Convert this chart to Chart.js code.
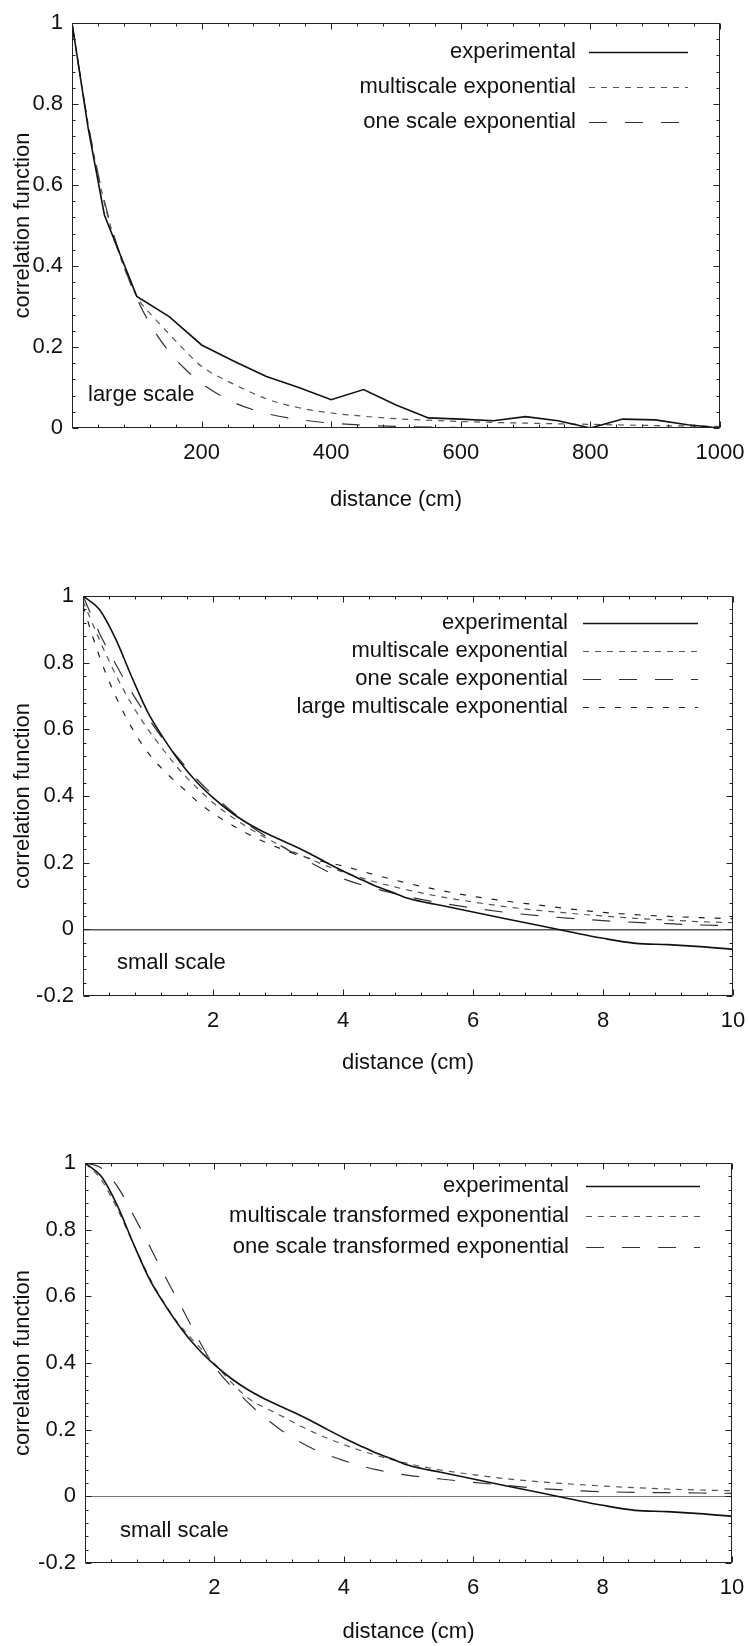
<!DOCTYPE html>
<html><head><meta charset="utf-8">
<script src="https://cdn.jsdelivr.net/npm/chart.js@4.4.1/dist/chart.umd.min.js"></script>
<style>
html,body{margin:0;padding:0;background:#fff;}
#wrap{position:relative;width:749px;height:1646px;background:#fff;}
canvas{position:absolute;left:0;}
</style></head><body>
<div id="wrap">
<canvas id="c1" width="749" height="540" style="top:0px"></canvas>
<canvas id="c2" width="749" height="530" style="top:560px"></canvas>
<canvas id="c3" width="749" height="546" style="top:1100px"></canvas>
</div>
<script>
// ---------- data: panel 1 (large scale) ----------
const largeDist = [0,25,50,100,150,200,250,300,350,400,450,500,550,600,650,700,750,800,850,900,950,1000];
const largeExperimental = [1.0,0.74,0.526,0.325,0.275,0.205,0.165,0.127,0.1,0.07,0.095,0.057,0.025,0.022,0.018,0.028,0.018,0.0,0.022,0.02,0.008,0.0];
const largeModelDist = [0,25,50,75,100,125,150,175,200,250,300,350,400,450,500,600,700,800,900,1000];
const largeMultiscale = [1.0,0.75,0.555,0.42,0.325,0.275,0.232,0.19,0.152,0.108,0.072,0.05,0.037,0.029,0.023,0.016,0.012,0.009,0.006,0.004];
const largeOneScale = [1.0,0.75,0.56,0.425,0.32,0.245,0.188,0.145,0.11,0.063,0.036,0.021,0.012,0.007,0.004,0.001,0,0,0,0];
const largeXTicks = [200,400,600,800,1000];
const largeYTicks = [0,0.2,0.4,0.6,0.8,1];

// ---------- data: panels 2 and 3 (small scale) ----------
const smallDist = [0,0.25,0.5,0.75,1,1.25,1.5,1.75,2,2.25,2.5,2.75,3,3.25,3.5,3.75,4,4.25,4.5,4.75,5,5.5,6,6.5,7,7.5,8,8.5,9,9.5,10];
const smallExperimental = [1.0,0.96,0.872,0.757,0.65,0.57,0.5,0.442,0.395,0.355,0.322,0.295,0.272,0.25,0.226,0.2,0.175,0.152,0.13,0.112,0.093,0.072,0.052,0.032,0.012,-0.008,-0.027,-0.042,-0.046,-0.052,-0.06];
const smallModelDist = [0,0.25,0.5,0.75,1,1.25,1.5,1.75,2,2.5,3,3.5,4,4.5,5,5.5,6,6.5,7,7.5,8,8.5,9,9.5,10];
const smallMultiscale = [0.985,0.87,0.765,0.675,0.6,0.535,0.475,0.425,0.38,0.31,0.255,0.21,0.172,0.142,0.118,0.098,0.082,0.068,0.057,0.048,0.04,0.033,0.028,0.023,0.02];
const smallOneScale = [1.0,0.89,0.797,0.711,0.635,0.566,0.506,0.451,0.403,0.321,0.256,0.2,0.152,0.122,0.098,0.079,0.064,0.051,0.041,0.033,0.026,0.021,0.017,0.013,0.011];
const smallLargeMultiscale = [0.97,0.82,0.70,0.605,0.53,0.475,0.43,0.385,0.348,0.29,0.245,0.212,0.19,0.163,0.138,0.117,0.099,0.085,0.073,0.061,0.051,0.044,0.039,0.035,0.032];
const smallMultiTransformed = [1.0,0.95,0.862,0.757,0.655,0.572,0.505,0.452,0.398,0.298,0.245,0.195,0.155,0.123,0.098,0.079,0.065,0.053,0.044,0.037,0.031,0.026,0.022,0.019,0.017];
const smallOneTransformed = [1.0,0.985,0.93,0.843,0.75,0.655,0.565,0.472,0.39,0.285,0.203,0.145,0.107,0.08,0.063,0.052,0.042,0.033,0.024,0.018,0.014,0.012,0.011,0.01,0.009];
const smallXTicks = [2,4,6,8,10];
const smallYTicks = [-0.2,0,0.2,0.4,0.6,0.8,1];

const xTitle = 'distance (cm)';
const yTitle = 'correlation function';

// ---------- rendering ----------
const FONT = "'Liberation Sans', Arial, Helvetica, sans-serif";
const FS = 22;
Chart.defaults.font.family = FONT;
Chart.defaults.font.size = FS;
Chart.defaults.color = '#111';

function pts(xs, ys){ return xs.map((x,i)=>({x:x, y:ys[i]})); }
function fmt(v){ return String(Math.round(v*1000)/1000); }

const STY = {
  exp:   {borderColor:'#111', borderWidth:1.6, borderDash:[]},
  multi: {borderColor:'#555', borderWidth:1.2, borderDash:[6,6]},
  one:   {borderColor:'#333', borderWidth:1.2, borderDash:[18,18]},
  large: {borderColor:'#222', borderWidth:1.2, borderDash:[6,10]}
};

function ds(label, xs, ys, sty, smooth){
  return Object.assign({label:label, data:pts(xs,ys), pointRadius:0, fill:false,
    tension: smooth ? 0.4 : 0, cubicInterpolationMode: smooth ? 'monotone' : 'default'}, sty);
}

const framePlugin = {
  id:'gnuFrame',
  afterDatasetsDraw(chart, args, o){
    const {ctx, chartArea:a, scales:{x, y}} = chart;
    ctx.save();
    ctx.strokeStyle = '#222'; ctx.lineWidth = 1; ctx.setLineDash([]);
    const l = Math.round(a.left)+0.5, r = Math.round(a.right)-0.5, t = Math.round(a.top)+0.5, b = Math.round(a.bottom)-0.5;
    ctx.beginPath(); ctx.rect(l, t, r-l, b-t); ctx.stroke();
    ctx.beginPath();
    let n = Math.round((x.max-x.min)/o.xMinor);
    for (let i=0;i<=n;i++){
      const v = x.min + i*o.xMinor;
      const major = Math.abs(v/o.xMajor - Math.round(v/o.xMajor)) < 1e-6;
      const len = major ? 6 : 3;
      const p = Math.round(x.getPixelForValue(v))+0.5;
      ctx.moveTo(p, b); ctx.lineTo(p, b-len);
      ctx.moveTo(p, t); ctx.lineTo(p, t+len);
    }
    n = Math.round((y.max-y.min)/o.yMinor);
    for (let i=0;i<=n;i++){
      const v = y.min + i*o.yMinor;
      const major = Math.abs(v/o.yMajor - Math.round(v/o.yMajor)) < 1e-6;
      const len = major ? 6 : 3;
      const p = Math.round(y.getPixelForValue(v))+0.5;
      ctx.moveTo(l, p); ctx.lineTo(l+len, p);
      ctx.moveTo(r, p); ctx.lineTo(r-len, p);
    }
    ctx.stroke();
    ctx.restore();
  }
};

const keyPlugin = {
  id:'gnuKey',
  afterDatasetsDraw(chart, args, o){
    const ctx = chart.ctx;
    ctx.save();
    ctx.font = FS + 'px ' + FONT;
    ctx.fillStyle = '#111';
    ctx.textBaseline = 'middle';
    chart.data.datasets.forEach((d, i) => {
      const yy = o.rows[i];
      ctx.textAlign = 'right';
      ctx.fillText(d.label, o.textRight, yy);
      ctx.beginPath();
      ctx.setLineDash(d.borderDash || []);
      ctx.strokeStyle = d.borderColor; ctx.lineWidth = d.borderWidth;
      ctx.moveTo(o.x1, Math.round(yy)+0.5); ctx.lineTo(o.x2, Math.round(yy)+0.5);
      ctx.stroke();
    });
    ctx.setLineDash([]);
    ctx.textAlign = 'left';
    ctx.fillText(o.note, o.noteX, o.noteY);
    ctx.restore();
  }
};

function zeroPad(s){ s.paddingLeft = 0; s.paddingRight = 0; s.paddingTop = 0; s.paddingBottom = 0; }

function makeChart(id, c){
  const canvas = document.getElementById(id);
  const H = canvas.height, W = canvas.width;
  const lh = FS*1.2;
  return new Chart(canvas, {
    type:'line',
    data:{datasets:c.datasets},
    options:{
      responsive:false, animation:false, events:[],
      layout:{padding:{left:0, top:c.T, right:W-c.R, bottom:0}},
      plugins:{
        legend:{display:false}, tooltip:{enabled:false},
        gnuFrame:{xMinor:c.xMinor, xMajor:c.xMajor, yMinor:c.yMinor, yMajor:c.yMajor},
        gnuKey:c.key
      },
      scales:{
        x:{type:'linear', min:c.xMin, max:c.xMax,
          afterFit:s=>{ s.height = H - c.B; zeroPad(s); },
          afterBuildTicks:s=>{ s.ticks = c.xTicks.map(v=>({value:v})); },
          ticks:{padding:12, maxRotation:0, autoSkip:false, color:'#111', callback:fmt},
          grid:{display:false, drawTicks:false}, border:{display:false},
          title:{display:true, text:xTitle, color:'#111', font:{size:FS}, padding:{top:0, bottom:H - c.xTitleY - lh/2}}
        },
        y:{type:'linear', min:c.yMin, max:c.yMax,
          afterFit:s=>{ s.width = c.L; zeroPad(s); },
          afterBuildTicks:s=>{ s.ticks = c.yTicks.map(v=>({value:v})); },
          ticks:{padding:9, autoSkip:false, color:'#111', callback:fmt},
          grid:{display:c.zeroLine, drawOnChartArea:true, drawTicks:false,
            color:ctx=> (ctx.tick && Math.abs(ctx.tick.value) < 1e-9) ? c.zeroColor : 'rgba(0,0,0,0)', lineWidth:c.zeroWidth},
          border:{display:false},
          title:{display:true, text:yTitle, color:'#111', font:{size:FS}, padding:{top:23 - lh/2, bottom:0}}
        }
      }
    },
    plugins:[framePlugin, keyPlugin]
  });
}

// panel 1
makeChart('c1', {
  T:23, B:428, L:72, R:720, xTitleY:500,
  xMin:0, xMax:1000, yMin:0, yMax:1,
  xTicks:largeXTicks, yTicks:largeYTicks,
  xMinor:40, xMajor:200, yMinor:0.04, yMajor:0.2,
  zeroLine:false, zeroColor:'#666', zeroWidth:1,
  key:{rows:[52,87,122], textRight:576, x1:589, x2:688, note:'large scale', noteX:88, noteY:395},
  datasets:[
    ds('experimental', largeDist, largeExperimental, STY.exp, false),
    ds('multiscale exponential', largeModelDist, largeMultiscale, STY.multi, true),
    ds('one scale exponential', largeModelDist, largeOneScale, STY.one, true)
  ]
});

// panel 2
makeChart('c2', {
  T:36, B:436, L:83, R:733, xTitleY:503,
  xMin:0, xMax:10, yMin:-0.2, yMax:1,
  xTicks:smallXTicks, yTicks:smallYTicks,
  xMinor:0.4, xMajor:2, yMinor:0.04, yMajor:0.2,
  zeroLine:true, zeroColor:'#555', zeroWidth:1.5,
  key:{rows:[63,91,119,147], textRight:568, x1:583, x2:698, note:'small scale', noteX:117, noteY:403},
  datasets:[
    ds('experimental', smallDist, smallExperimental, STY.exp, true),
    ds('multiscale exponential', smallModelDist, smallMultiscale, STY.multi, true),
    ds('one scale exponential', smallModelDist, smallOneScale, STY.one, true),
    ds('large multiscale exponential', smallModelDist, smallLargeMultiscale, STY.large, true)
  ]
});

// panel 3
makeChart('c3', {
  T:63, B:463, L:85, R:732, xTitleY:532,
  xMin:0, xMax:10, yMin:-0.2, yMax:1,
  xTicks:smallXTicks, yTicks:smallYTicks,
  xMinor:0.4, xMajor:2, yMinor:0.04, yMajor:0.2,
  zeroLine:true, zeroColor:'#777', zeroWidth:1,
  key:{rows:[86,116,147], textRight:569, x1:586, x2:700, note:'small scale', noteX:120, noteY:431},
  datasets:[
    ds('experimental', smallDist, smallExperimental, STY.exp, true),
    ds('multiscale transformed exponential', smallModelDist, smallMultiTransformed, STY.multi, true),
    ds('one scale transformed exponential', smallModelDist, smallOneTransformed, STY.one, true)
  ]
});
</script>
</body></html>
